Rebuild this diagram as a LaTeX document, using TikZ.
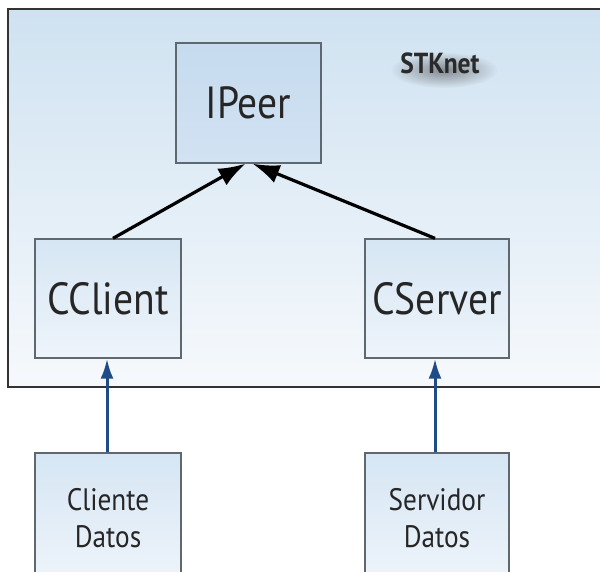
\documentclass[tikz,border=0pt]{standalone}
\usepackage{fontspec}
\setmainfont{PT Sans}
\newfontfamily\boxfont[FakeStretch=0.88]{PT Sans}
\usetikzlibrary{arrows.meta,shadings,fadings}

\definecolor{frameTop}{HTML}{CFE2F1}
\definecolor{frameBot}{HTML}{F6F9FC}
\definecolor{boxTop}{HTML}{D6E6F4}
\definecolor{boxBot}{HTML}{EEF4FA}
\definecolor{ipeerFill}{HTML}{C6DBEF}
\definecolor{boxLine}{HTML}{5F676F}
\definecolor{linkBlue}{HTML}{1F4C86}
\definecolor{labelGray}{HTML}{2A2A2A}

% radial fade used for the label's soft shadow
\tikzfading[name=softspot, inner color=transparent!45, outer color=transparent!100]

\tikzset{
  classbox/.style={draw=boxLine, line width=1.3pt, top color=boxTop, bottom color=boxBot,
    inner sep=0pt, font=\boxfont\fontsize{45}{48}\selectfont, text=black!85},
  databox/.style={classbox, font=\boxfont\fontsize{31}{37}\selectfont, align=center},
  inherit/.style={line width=3.2pt, -{Latex[length=27pt,width=19pt]}},
  uses/.style={draw=linkBlue, line width=3pt, -{Latex[length=20pt,width=13pt]}, color=linkBlue}
}

\begin{document}
\begin{tikzpicture}[x=1pt,y=-1pt]
  \useasboundingbox (0,0) rectangle (600,571);
  \clip (0,0) rectangle (600,571);
  \fill[white] (0,0) rectangle (600,571);

  % package frame
  \shade[top color=frameTop, bottom color=frameBot] (8,9) rectangle (610,387);
  \draw[black!80, line width=1.6pt] (610,9) -- (8,9) -- (8,387) -- (610,387);

  % package label over a soft drop shadow
  \fill[black!75, path fading=softspot, fit fading=true]
    (444,70) ellipse [x radius=54pt, y radius=18pt];
  \node[text=labelGray, font=\boxfont\fontsize{29}{32}\selectfont\bfseries] (stk) at (440,63) {STKnet};

  % classes
  \node[classbox, minimum width=145pt, minimum height=120pt, top color=ipeerFill, bottom color=ipeerFill!80!white]
    (ipeer) at (248.5,103) {IPeer};
  \node[classbox, minimum width=146pt, minimum height=119pt] (cclient) at (108,298.5) {CClient};
  \node[classbox, minimum width=144pt, minimum height=119pt] (cserver) at (437,298.5) {CServer};

  % data classes outside the package
  \node[databox, minimum width=146pt, minimum height=130pt] (cdatos) at (108,518) {Cliente\\Datos};
  \node[databox, minimum width=144pt, minimum height=130pt] (sdatos) at (437,518) {Servidor\\Datos};

  % inheritance
  \draw[inherit] ([xshift=5pt]cclient.north) -- ([xshift=-3pt]ipeer.south);
  \draw[inherit] ([xshift=-2pt]cserver.north) -- ([xshift=4pt]ipeer.south);

  % usage links
  \draw[uses] ([xshift=-1pt]cdatos.north) -- ([xshift=-1pt]cclient.south);
  \draw[uses] ([xshift=-2pt]sdatos.north) -- ([xshift=-2pt]cserver.south);
\end{tikzpicture}
\end{document}
